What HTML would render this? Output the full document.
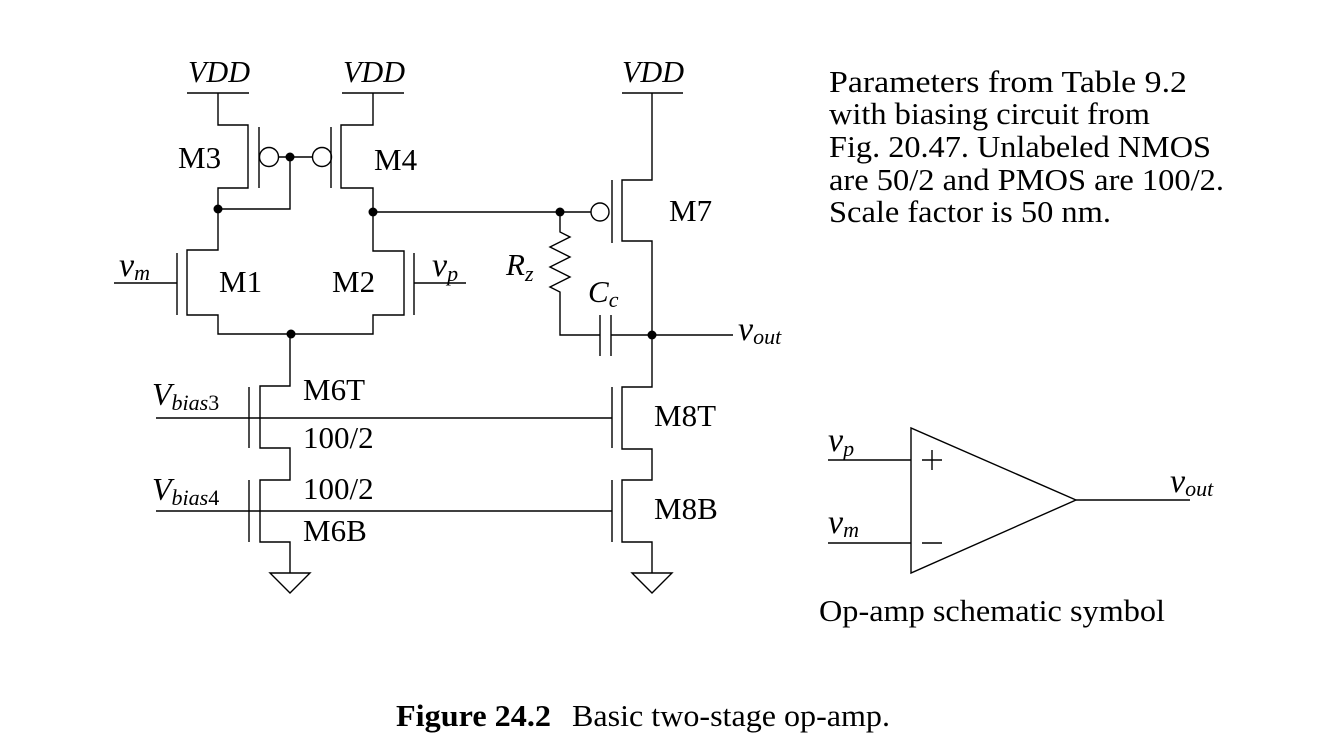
<!DOCTYPE html>
<html><head><meta charset="utf-8"><style>
html,body{margin:0;padding:0;background:#fff}
svg{display:block}
text{font-family:"Liberation Serif",serif;fill:#000}
.i{font-style:italic}
</style></head><body>
<svg width="1335" height="755" viewBox="0 0 1335 755" xmlns="http://www.w3.org/2000/svg">
<g stroke="#000" stroke-width="1.4" fill="none">
<line x1="187" y1="93" x2="249" y2="93"/>
<line x1="342" y1="93" x2="404" y2="93"/>
<line x1="622" y1="93" x2="683" y2="93"/>
<polyline points="218,93 218,125 248,125 248,188 218,188 218,250 187,250 187,315 218,315 218,334 373,334 373,315 404,315 404,251 373,251 373,188 341,188 341,125 373,125 373,93"/>
<line x1="259" y1="127" x2="259" y2="188"/>
<line x1="331" y1="127" x2="331" y2="188"/>
<circle cx="269" cy="157" r="9.5"/>
<circle cx="322" cy="157" r="9.5"/>
<line x1="279" y1="157" x2="312" y2="157"/>
<polyline points="218,209 290,209 290,157"/>
<line x1="177" y1="253" x2="177" y2="315"/>
<line x1="114" y1="283" x2="177" y2="283"/>
<line x1="414" y1="253" x2="414" y2="315"/>
<line x1="414" y1="283" x2="466" y2="283"/>
<line x1="373" y1="212" x2="591" y2="212"/>
<circle cx="600" cy="212" r="9"/>
<line x1="612" y1="180" x2="612" y2="243"/>
<polyline points="652,93 652,180 622,180 622,241 652,241 652,387 622,387 622,449 652,449 652,480 622,480 622,542 652,542 652,573"/>
<polyline points="560,212 560,232 570,237 550,247 570,257 550,267 570,277 550,287 560,292 560,335 600,335"/>
<line x1="600" y1="315" x2="600" y2="356"/>
<line x1="611" y1="315" x2="611" y2="356"/>
<line x1="611" y1="335" x2="733" y2="335"/>
<polyline points="290,334 290,386 260,386 260,448 290,448 290,480 260,480 260,542 290,542 290,573"/>
<line x1="249" y1="387" x2="249" y2="448"/>
<line x1="249" y1="480" x2="249" y2="542"/>
<line x1="612" y1="387" x2="612" y2="448"/>
<line x1="612" y1="480" x2="612" y2="542"/>
<line x1="156" y1="418" x2="612" y2="418"/>
<line x1="156" y1="511" x2="612" y2="511"/>
<polygon points="270,573 310,573 290,593"/>
<polygon points="632,573 672,573 652,593"/>
<polygon points="911,428 911,573 1076,500"/>
<line x1="828" y1="460" x2="911" y2="460"/>
<line x1="828" y1="543" x2="911" y2="543"/>
<line x1="1076" y1="500" x2="1190" y2="500"/>
<line x1="922" y1="460" x2="942" y2="460"/>
<line x1="932" y1="450" x2="932" y2="470"/>
<line x1="922" y1="543" x2="942" y2="543"/>
</g>
<g fill="#000">
<circle cx="290" cy="157" r="4.5"/>
<circle cx="218" cy="209" r="4.5"/>
<circle cx="373" cy="212" r="4.5"/>
<circle cx="560" cy="212" r="4.5"/>
<circle cx="291" cy="334" r="4.5"/>
<circle cx="652" cy="335" r="4.5"/>
</g>
<g font-size="31">
<text x="188" y="82" class="i" textLength="62" lengthAdjust="spacingAndGlyphs">VDD</text>
<text x="343" y="82" class="i" textLength="62" lengthAdjust="spacingAndGlyphs">VDD</text>
<text x="622" y="82" class="i" textLength="62" lengthAdjust="spacingAndGlyphs">VDD</text>
<text x="178" y="168">M3</text>
<text x="374" y="170">M4</text>
<text x="669" y="221">M7</text>
<text x="219" y="292">M1</text>
<text x="332" y="292">M2</text>
<text x="119" y="276" class="i" font-size="34">v<tspan font-size="22" dy="4">m</tspan></text>
<text x="432" y="276" class="i" font-size="34">v<tspan font-size="22" dy="5">p</tspan></text>
<text x="506" y="275" class="i">R<tspan font-size="22" dy="6">z</tspan></text>
<text x="588" y="302" class="i">C<tspan font-size="22" dy="5">c</tspan></text>
<text x="738" y="340" class="i" font-size="34">v<tspan font-size="22" dy="4">out</tspan></text>
<text x="303" y="400">M6T</text>
<text x="303" y="448">100/2</text>
<text x="303" y="499">100/2</text>
<text x="303" y="541">M6B</text>
<text x="654" y="426">M8T</text>
<text x="654" y="519">M8B</text>
<text x="152" y="405" class="i" font-size="32">V<tspan font-size="22" dy="5">bias</tspan><tspan font-style="normal" font-size="22">3</tspan></text>
<text x="152" y="500" class="i" font-size="32">V<tspan font-size="22" dy="5">bias</tspan><tspan font-style="normal" font-size="22">4</tspan></text>
<text x="829" y="92" textLength="358" lengthAdjust="spacingAndGlyphs">Parameters from Table 9.2</text>
<text x="829" y="124" textLength="321" lengthAdjust="spacingAndGlyphs">with biasing circuit from</text>
<text x="829" y="157" textLength="382" lengthAdjust="spacingAndGlyphs">Fig. 20.47. Unlabeled NMOS</text>
<text x="829" y="190" textLength="395" lengthAdjust="spacingAndGlyphs">are 50/2 and PMOS are 100/2.</text>
<text x="829" y="222" textLength="282" lengthAdjust="spacingAndGlyphs">Scale factor is 50 nm.</text>
<text x="828" y="451" class="i" font-size="34">v<tspan font-size="22" dy="5">p</tspan></text>
<text x="828" y="533" class="i" font-size="34">v<tspan font-size="22" dy="4">m</tspan></text>
<text x="1170" y="492" class="i" font-size="34">v<tspan font-size="22" dy="4">out</tspan></text>
<text x="819" y="621" textLength="346" lengthAdjust="spacingAndGlyphs">Op-amp schematic symbol</text>
<text x="396" y="726" font-weight="bold" textLength="155" lengthAdjust="spacingAndGlyphs">Figure 24.2</text>
<text x="572" y="726" textLength="318" lengthAdjust="spacingAndGlyphs">Basic two-stage op-amp.</text>
</g>
</svg>
</body></html>
